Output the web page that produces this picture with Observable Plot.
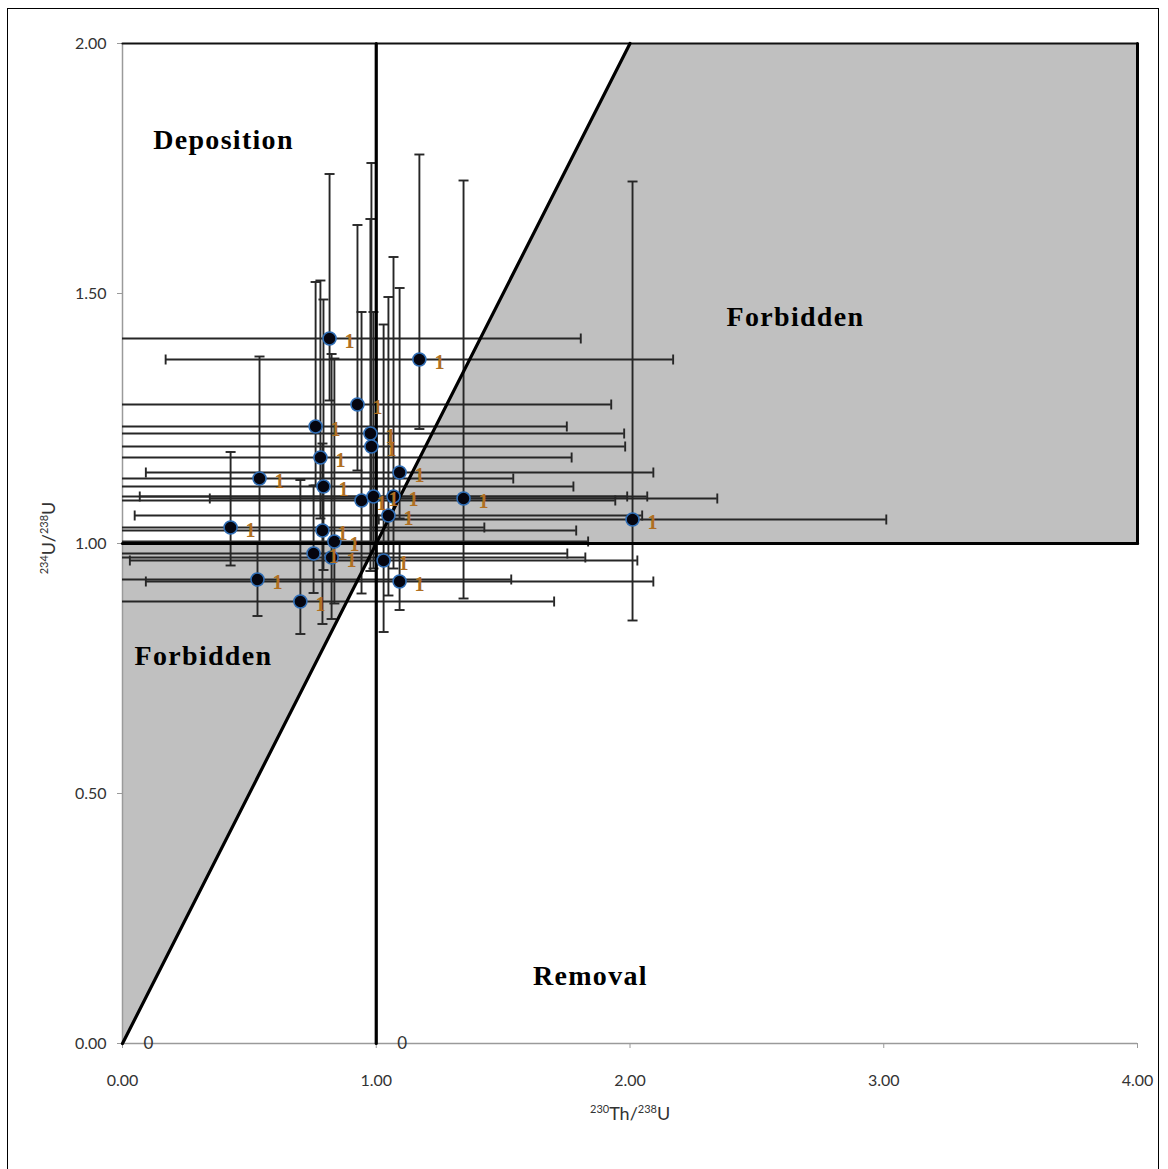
<!DOCTYPE html>
<html>
<head>
<meta charset="utf-8">
<script src="https://cdn.jsdelivr.net/npm/d3@7"></script>
<script src="https://cdn.jsdelivr.net/npm/@observablehq/plot@0.6"></script>
<style>
  html, body { margin: 0; padding: 0; background: #fff; }
  #wrap { position: relative; width: 1168px; height: 1169px; overflow: hidden; }
  #frame { position: absolute; left: 7px; top: 8px; width: 1152px; height: 1175px; border: 1.5px solid #000; box-sizing: border-box; pointer-events: none; }
  .axt { position: absolute; font-family: Lato, "Noto Sans", sans-serif; font-size: 18px; color: #333; white-space: nowrap; }
  .axt sup { font-size: 11px; vertical-align: 7px; }
  g[font-weight="bold"] text { letter-spacing: 1.3px; }
</style>
</head>
<body>
<div id="wrap">
  <div id="chart"></div>
  <div id="frame"></div>
  <div class="axt" id="xlab"><sup>230</sup>Th/<sup>238</sup>U</div>
  <div class="axt" id="ylab"><sup>234</sup>U/<sup>238</sup>U</div>
</div>
<script>
// ---- data ----
const xTicks = [0, 1, 2, 3, 4];
const yTicks = [0, 0.5, 1, 1.5, 2];

// sample points: 230Th/238U (x) and 234U/238U (y)
const ptX = [0.816, 1.17, 0.926, 0.761, 0.977, 0.981, 0.78, 1.092, 0.54, 0.792, 0.942, 0.989, 1.068,
             1.344, 1.048, 2.01, 0.426, 0.788, 0.835, 0.753, 0.824, 1.029, 0.532, 1.092, 0.701];
const ptY = [1.41, 1.368, 1.278, 1.234, 1.22, 1.194, 1.172, 1.142, 1.13, 1.114, 1.086, 1.094, 1.094,
             1.09, 1.056, 1.048, 1.032, 1.026, 1.004, 0.98, 0.972, 0.966, 0.928, 0.924, 0.884];
// horizontal error (±)
const xErr = [0.99, 1.0, 1.0, 0.99, 1.0, 1.0, 0.99, 1.0, 1.0, 0.985, 1.0, 1.0, 1.0,
              1.0, 1.0, 1.0, 1.0, 1.0, 1.0, 1.0, 1.0, 1.0, 1.0, 1.0, 1.0];
// vertical error bar ends
const yLow  = [1.286, 1.229, 1.146, 1.116, 0.945, 1.0, 1.05, 1.05, 1.0, 0.947, 0.9, 0.95, 0.95,
               0.89, 0.896, 0.846, 0.956, 0.839, 0.88, 0.901, 0.849, 0.823, 0.855, 0.867, 0.819];
const yHigh = [1.739, 1.778, 1.637, 1.523, 1.649, 1.761, 1.526, 1.511, 1.374, 1.488, 1.463, 1.463, 1.573,
               1.726, 1.493, 1.724, 1.183, 1.2, 1.37, 1.116, 1.379, 1.438, 1.0, 1.0, 1.127];
const ptLabel = ["1","1","1","1","1","1","1","1","1","1","1","1","1",
                 "1","1","1","1","1","1","1","1","1","1","1","1"];

// reference lines (secular equilibrium boundaries)
const diagX = [0, 2], diagY = [0, 2];
const vertX = [1, 1], vertY = [0, 2];
const horizX = [0, 4], horizY = [1, 1];
const topX = [0, 4], topY = [2, 2];
const rightX = [4, 4], rightY = [1, 2];
// labels at the lines' lower ends
const zeroX = [0, 1], zeroY = [0, 0], zeroText = ["0", "0"];

// shaded "forbidden" zones
const zoneLowX = [0, 1], zoneLowY1 = [0, 1], zoneLowY2 = [1, 1];
const zoneHighX = [1, 2, 4], zoneHighY1 = [1, 1, 1], zoneHighY2 = [1, 2, 2];

// region names
const regionName = ["Deposition", "Forbidden", "Forbidden", "Removal"];
const regionX = [0.398, 2.652, 0.319, 1.844];
const regionY = [1.806, 1.452, 0.774, 0.134];

// ---- build tables ----
const pts = ptX.map((x, i) => ({x, y: ptY[i], xl: x - xErr[i], xh: x + xErr[i], yl: yLow[i], yh: yHigh[i], lab: ptLabel[i]}));
const pairs = (xs, ys) => xs.map((x, i) => ({x, y: ys[i]}));
const zoneLow = zoneLowX.map((x, i) => ({x, y1: zoneLowY1[i], y2: zoneLowY2[i]}));
const zoneHigh = zoneHighX.map((x, i) => ({x, y1: zoneHighY1[i], y2: zoneHighY2[i]}));
const regions = regionName.map((t, i) => ({t, x: regionX[i], y: regionY[i]}));
const zeros = zeroX.map((x, i) => ({x, y: zeroY[i], t: zeroText[i]}));

const vcap = {draw(ctx, size) { const r = Math.sqrt(size / Math.PI); ctx.moveTo(0, -r); ctx.lineTo(0, r); }};
const hcap = {draw(ctx, size) { const r = Math.sqrt(size / Math.PI); ctx.moveTo(-r, 0); ctx.lineTo(r, 0); }};

const barColor = "#262626";
const bw = 1.9;
const fmt = d3.format(".2f");

const chart = Plot.plot({
  width: 1168,
  height: 1169,
  marginLeft: 122,
  marginRight: 31,
  marginTop: 43,
  marginBottom: 126,
  x: {domain: [0, 4], ticks: xTicks, tickFormat: fmt, tickSize: 5, tickPadding: 26, label: null},
  y: {domain: [0, 2], ticks: yTicks, tickFormat: fmt, tickSize: 5, tickPadding: 11, label: null},
  style: {fontFamily: "Lato, 'Noto Sans', sans-serif", fontSize: "16px", color: "#333", background: "transparent"},
  marks: [
    Plot.areaY(zoneLow, {x: "x", y1: "y1", y2: "y2", fill: "#c0c0c0", curve: "linear"}),
    Plot.areaY(zoneHigh, {x: "x", y1: "y1", y2: "y2", fill: "#c0c0c0", curve: "linear"}),
    Plot.ruleX([0], {stroke: "#9a9a9a", strokeWidth: 1.5}),
    Plot.ruleY([0], {stroke: "#9a9a9a", strokeWidth: 1.5}),
    // horizontal error bars
    Plot.ruleY(pts, {y: "y", x1: (d) => Math.max(0, d.xl), x2: "xh", stroke: barColor, strokeWidth: bw}),
    Plot.dot(pts.filter((d) => d.xl >= 0), {x: "xl", y: "y", symbol: vcap, r: 5, stroke: barColor, strokeWidth: bw, fill: "none"}),
    Plot.dot(pts, {x: "xh", y: "y", symbol: vcap, r: 5, stroke: barColor, strokeWidth: bw, fill: "none"}),
    // vertical error bars
    Plot.ruleX(pts, {x: "x", y1: "yl", y2: "yh", stroke: barColor, strokeWidth: bw}),
    Plot.dot(pts, {x: "x", y: "yl", symbol: hcap, r: 5, stroke: barColor, strokeWidth: bw, fill: "none"}),
    Plot.dot(pts, {x: "x", y: "yh", symbol: hcap, r: 5, stroke: barColor, strokeWidth: bw, fill: "none"}),
    // boundary lines
    Plot.line(pairs(topX, topY), {x: "x", y: "y", stroke: "#111", strokeWidth: 2.2}),
    Plot.line(pairs(rightX, rightY), {x: "x", y: "y", stroke: "#000", strokeWidth: 3}),
    Plot.line(pairs(horizX, horizY), {x: "x", y: "y", stroke: "#000", strokeWidth: 3.2}),
    Plot.line(pairs(vertX, vertY), {x: "x", y: "y", stroke: "#000", strokeWidth: 3.2}),
    Plot.line(pairs(diagX, diagY), {x: "x", y: "y", stroke: "#000", strokeWidth: 3.2}),
    Plot.text(zeros, {x: "x", y: "y", text: "t", dx: 26, fill: "#333", fontSize: 17, fontFamily: "Lato, sans-serif"}),
    // points
    Plot.dot(pts, {x: "x", y: "y", r: 6.5, fill: "#05050f", stroke: "#2f6db5", strokeWidth: 1.6}),
    Plot.text(pts, {x: "x", y: "y", text: "lab", dx: 20, dy: 3, fill: "#b06f22", fontSize: 20, fontWeight: 600, fontFamily: "'Liberation Serif', serif"}),
    // region names
    Plot.text(regions, {x: "x", y: "y", text: "t", fontFamily: "'Liberation Serif', 'Times New Roman', serif", fontWeight: "bold", fontSize: 28, fill: "#000"})
  ]
});
document.getElementById("chart").appendChild(chart);

// grey tick marks like the original axes
d3.select(chart).selectAll('g[aria-label$="axis tick"]').attr("stroke", "#9a9a9a");
d3.select(chart).selectAll('g[aria-label$="axis tick"] path').attr("stroke", "#9a9a9a");

// axis titles
const xl = document.getElementById("xlab");
xl.style.left = (630 - xl.offsetWidth / 2) + "px";
xl.style.top = "1102px";
const yl = document.getElementById("ylab");
yl.style.left = (48 - yl.offsetWidth / 2) + "px";
yl.style.top = (538 - yl.offsetHeight / 2) + "px";
yl.style.transform = "rotate(-90deg)";
</script>
</body>
</html>
